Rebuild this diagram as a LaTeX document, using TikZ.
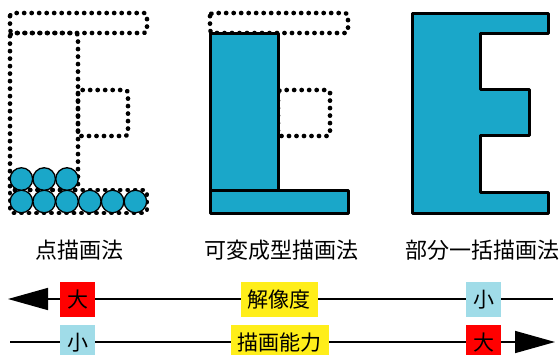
\documentclass[tikz,border=0pt]{standalone}
\usepackage{fontspec}
\newfontfamily\jp{Noto Sans CJK JP}
\usetikzlibrary{arrows.meta}
\definecolor{eblue}{RGB}{26,167,201}
\definecolor{lblue}{RGB}{160,220,232}
\definecolor{yel}{RGB}{255,238,26}
\definecolor{rd}{RGB}{255,0,0}
\tikzset{
  dotline/.style={line width=4.6pt, dash pattern=on 0.2pt off 7.3pt, line cap=round, rounded corners=3pt},
  solidbox/.style={draw=black, line width=3pt, fill=eblue, line join=round},
  dotcirc/.style={draw=black, line width=1.3pt, fill=eblue},
  caption/.style={font=\jp\fontsize{22}{24}\selectfont, inner sep=0pt},
  tag/.style={font=\jp\fontsize{21}{24}\selectfont, inner xsep=7pt, minimum height=35pt, minimum width=35pt},
  axis/.style={line width=1.6pt},
  bigtip/.style={-{Triangle[length=40pt,width=22pt]}}
}
\begin{document}
\begin{tikzpicture}[x=1pt,y=-1pt]
\useasboundingbox (0,0) rectangle (560,354);
% panel 1: dotted outline
\draw[dotline] (10,13) rectangle (147,33);
\draw[dotline] (10,33) rectangle (78,190);
\draw[dotline] (10,190) rectangle (147,213);
\draw[dotline] (78,90) rectangle (128,136);
\foreach \i in {0,...,5} {
  \node[dotcirc, circle, minimum size=22.5pt, inner sep=0pt] (b\i) at (21.4+22.8*\i,201.5) {};
}
\foreach \i in {0,1,2} {
  \node[dotcirc, circle, minimum size=22.5pt, inner sep=0pt] (t\i) at (21.4+22.8*\i,179) {};
}
% panel 2
\draw[dotline] (210,13) rectangle (348,33);
\draw[dotline] (278,90) rectangle (330,136);
\draw[solidbox] (210,33) rectangle (278,190);
\draw[solidbox] (210,190) rectangle (348,213);
% panel 3: E
\draw[solidbox] (412,13) -- (548,13) -- (548,33) -- (480,33) -- (480,89) -- (529,89)
  -- (529,135) -- (480,135) -- (480,192) -- (548,192) -- (548,213) -- (412,213) -- cycle;
% captions
\node[caption] (c1) at (79,250) {点描画法};
\node[caption] (c2) at (281,250) {可変成型描画法};
\node[caption] (c3) at (482,250) {部分一括描画法};
% row 1
\coordinate (r1l) at (8,299);
\coordinate (r1r) at (553,299);
\draw[axis, bigtip] (r1r) -- (r1l);
\node[tag, fill=rd] (big1) at (77.5,299.5) {大};
\node[tag, fill=yel] (res) at (279,299.5) {解像度};
\node[tag, fill=lblue] (small1) at (483.5,299.5) {小};
% row 2
\coordinate (r2l) at (10,342);
\coordinate (r2r) at (555,342);
\draw[axis, bigtip] (r2l) -- (r2r);
\node[tag, fill=lblue] (small2) at (77.5,342.5) {小};
\node[tag, fill=yel] (abil) at (279.5,342.5) {描画能力};
\node[tag, fill=rd] (big2) at (483.5,342.5) {大};
\end{tikzpicture}
\end{document}
